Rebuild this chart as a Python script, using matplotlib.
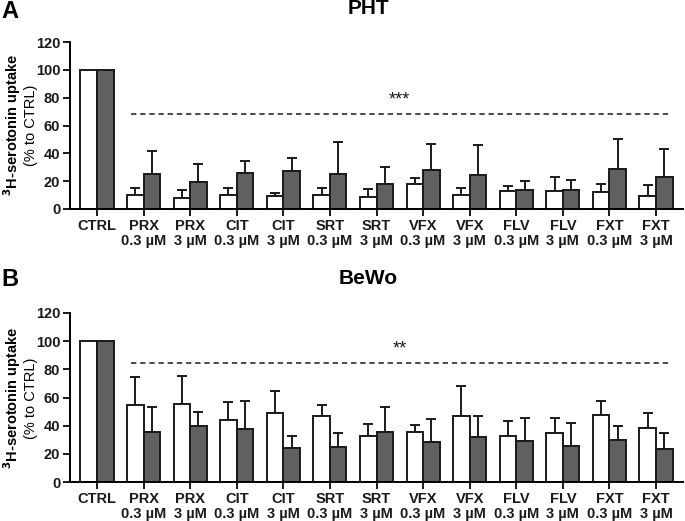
import matplotlib.pyplot as plt
import numpy as np

plt.rcParams['font.family'] = ['Liberation Sans', 'DejaVu Sans']

categories = ['CTRL', 'PRX\n0.3 µM', 'PRX\n3 µM', 'CIT\n0.3 µM', 'CIT\n3 µM', 'SRT\n0.3 µM', 'SRT\n3 µM',
              'VFX\n0.3 µM', 'VFX\n3 µM', 'FLV\n0.3 µM', 'FLV\n3 µM', 'FXT\n0.3 µM', 'FXT\n3 µM']

# PHT panel: white / dark bars, upper error bar tops
pht_white = [100, 9.8, 8.0, 10.3, 9.3, 9.8, 8.6, 17.9, 9.8, 12.9, 13.1, 12.2, 9.1]
pht_white_top = [100, 15.0, 13.5, 15.0, 11.5, 15.0, 14.3, 22.4, 14.8, 16.5, 22.7, 17.9, 16.9]
pht_dark = [100, 25.0, 19.5, 25.8, 27.4, 25.0, 17.9, 28.2, 24.3, 13.4, 13.8, 29.1, 23.2]
pht_dark_top = [100, 42.0, 32.0, 34.4, 36.3, 48.5, 30.5, 47.0, 46.3, 20.0, 21.0, 50.6, 43.4]

# BeWo panel
bewo_white = [100, 54.7, 55.2, 43.8, 49.3, 46.7, 32.9, 35.5, 46.9, 32.5, 34.8, 47.6, 38.2]
bewo_white_top = [100, 74.9, 75.4, 56.6, 64.5, 54.5, 41.0, 40.3, 68.0, 43.4, 45.5, 57.3, 49.3]
bewo_dark = [100, 35.3, 39.6, 37.9, 23.9, 25.1, 35.3, 28.7, 32.2, 29.4, 25.8, 29.6, 23.2]
bewo_dark_top = [100, 53.6, 49.5, 57.3, 32.9, 34.6, 53.3, 44.8, 46.7, 45.7, 41.9, 40.0, 34.6]

sig_level = {'PHT': 68, 'BeWo': 84.5}
sig_text = {'PHT': '***', 'BeWo': '**'}

W, H = 685, 521
fig = plt.figure(figsize=(W / 100, H / 100), dpi=100)


def draw_panel(rect, name, white, white_top, dark, dark_top):
    ax = fig.add_axes(rect)
    x = np.arange(len(categories))
    width = 0.355
    ax.bar(x - width / 2, white, width=width, color='white', edgecolor='#1a1a1a', linewidth=1.4, zorder=2)
    ax.bar(x + width / 2, dark, width=width, color='#606060', edgecolor='#1a1a1a', linewidth=1.4, zorder=2)
    w_err = np.array(white_top) - np.array(white)
    d_err = np.array(dark_top) - np.array(dark)
    ax.errorbar(x[1:] - width / 2, white[1:], yerr=[np.zeros(len(x) - 1), w_err[1:]], fmt='none',
                ecolor='#1a1a1a', elinewidth=1.4, capsize=3.5, capthick=1.4, zorder=1)
    ax.errorbar(x[1:] + width / 2, dark[1:], yerr=[np.zeros(len(x) - 1), d_err[1:]], fmt='none',
                ecolor='#1a1a1a', elinewidth=1.4, capsize=3.5, capthick=1.4, zorder=1)
    ax.plot([0.73, 12.27], [sig_level[name]] * 2, ls=(0, (3.5, 2.5)), color='#1a1a1a', lw=1.1)
    ax.text(6.5, sig_level[name] + 4, sig_text[name], ha='center', va='bottom', fontsize=13, color='#1a1a1a')
    ax.set_xlim(-0.58, 12.58)
    ax.set_ylim(0, 120)
    ax.set_yticks(range(0, 121, 20))
    ax.set_xticks(x)
    ax.set_xticklabels(categories, fontsize=10.5, fontweight='bold', linespacing=1.15)
    for lab in ax.get_yticklabels():
        lab.set_fontweight('bold')
        lab.set_fontsize(10.5)
    ax.spines['top'].set_visible(False)
    ax.spines['right'].set_visible(False)
    ax.spines['left'].set_linewidth(1.4)
    ax.spines['bottom'].set_linewidth(1.4)
    ax.tick_params(width=1.4, length=5, colors='#1a1a1a', pad=2)
    return ax


axA = draw_panel([70 / W, 1 - 209 / H, 613 / W, 167 / H], 'PHT', pht_white, pht_white_top, pht_dark, pht_dark_top)
axB = draw_panel([70 / W, 1 - 482 / H, 613 / W, 169 / H], 'BeWo', bewo_white, bewo_white_top, bewo_dark, bewo_dark_top)

# y labels (two lines: bold + regular)
for yc in (125, 398):
    fig.text(12 / W, 1 - yc / H, '$\\mathbf{^3}$H-serotonin uptake', rotation=90, ha='center', va='center',
             fontsize=10.5, fontweight='bold')
    fig.text(31 / W, 1 - yc / H, '(% to CTRL)', rotation=90, ha='center', va='center', fontsize=10.5)

fig.text(368 / W, 1 - 9 / H, 'PHT', ha='center', va='center', fontsize=15, fontweight='bold')
fig.text(368 / W, 1 - 279 / H, 'BeWo', ha='center', va='center', fontsize=15, fontweight='bold')
fig.text(1 / W, 1 - 11 / H, 'A', ha='left', va='center', fontsize=17, fontweight='bold')
fig.text(1 / W, 1 - 279 / H, 'B', ha='left', va='center', fontsize=17, fontweight='bold')

fig.savefig('out.png', dpi=100)
